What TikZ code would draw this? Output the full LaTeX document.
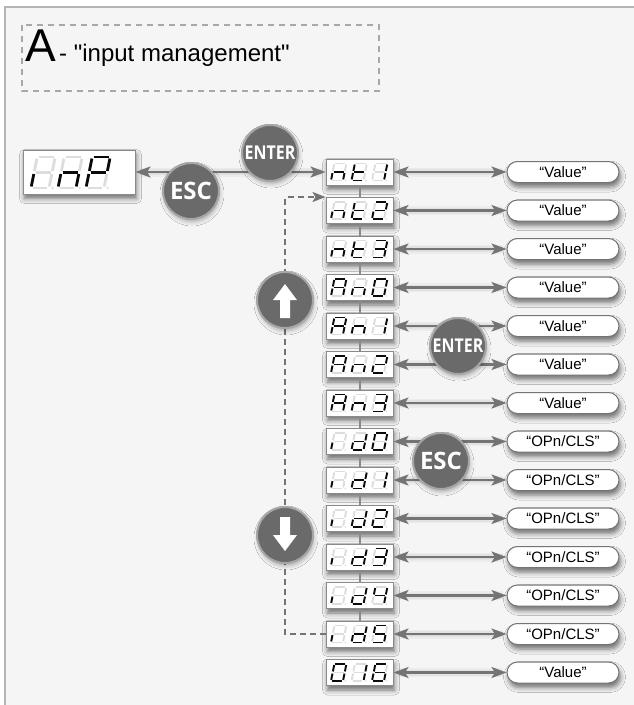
\documentclass[tikz,border=0pt]{standalone}
\usepackage{fontspec}
\usepackage{graphicx}
\setmainfont{Liberation Sans}[Ligatures=TeXOff]
\newfontfamily\btnfont{Open Sans}
\usetikzlibrary{arrows.meta,shadows.blur}
\definecolor{bgc}{HTML}{F5F5F5}
\definecolor{bordc}{HTML}{B5B5B5}
\definecolor{linec}{HTML}{747474}
\definecolor{boxc}{HTML}{8A8A8A}
\definecolor{btnc}{HTML}{6A6A6A}
\definecolor{btnring}{HTML}{A6A6A6}
\definecolor{segon}{HTML}{0A0A0A}
\definecolor{segoff}{HTML}{DDDDDD}
\definecolor{dashc}{HTML}{A8A8A8}
\makeatletter
\newcommand\segsel[2]{\edef\segtmp{\noexpand\in@{#1}{#2}}\segtmp\ifin@\def\segcol{segon}\else\def\segcol{segoff}\fi}
\makeatother
\newcommand\sdigit[6]{%
 \begin{scope}[shift={(#1,#2)},x=1pt,y=1pt,xslant=0.2,line width=#5]
  \pgfmathsetmacro\dW{#3}\pgfmathsetmacro\dH{#4}\pgfmathsetmacro\dM{#4/2}\pgfmathsetmacro\dg{#5*0.55}
  \segsel{a}{#6}\draw[color=\segcol] (\dg,\dH) -- (\dW-\dg,\dH);
  \segsel{b}{#6}\draw[color=\segcol] (\dW,\dH-\dg) -- (\dW,\dM+\dg);
  \segsel{c}{#6}\draw[color=\segcol] (\dW,\dM-\dg) -- (\dW,\dg);
  \segsel{d}{#6}\draw[color=\segcol] (\dg,0) -- (\dW-\dg,0);
  \segsel{e}{#6}\draw[color=\segcol] (0,\dg) -- (0,\dM-\dg);
  \segsel{f}{#6}\draw[color=\segcol] (0,\dM+\dg) -- (0,\dH-\dg);
  \segsel{g}{#6}\draw[color=\segcol] (\dg,\dM) -- (\dW-\dg,\dM);
  \fill[segoff] (\dW+#5*1.3,0) circle[radius=#5*0.45];
 \end{scope}}
\newcommand\val{“Value”}
\newcommand\ocl{“OPn/CLS”}
\newcommand\entertxt{\btnfont\bfseries\fontsize{19}{19}\selectfont\scalebox{0.84}[1]{ENTER}}
\newcommand\esctxt{\btnfont\bfseries\fontsize{24}{24}\selectfont ESC}
\tikzset{
  sh/.style={blur shadow={shadow xshift=1.5pt, shadow yshift=-4.5pt, shadow blur radius=5pt, shadow opacity=55}},
  dispbox/.style={draw=boxc, fill=white, line width=1pt, minimum width=67, minimum height=26, inner sep=0, sh},
  pill/.style={draw=linec, fill=white, line width=1pt, rounded corners=10.5pt, minimum width=112, minimum height=21, inner sep=0, font=\fontsize{15}{15}\selectfont, sh},
  btn/.style={circle, fill=btnc, draw=btnring, line width=2pt, minimum size=56, inner sep=0, text=white, blur shadow={shadow xshift=1pt, shadow yshift=-3pt, shadow blur radius=4pt, shadow opacity=30}},
  dbl/.style={linec, line width=2.4pt, {Stealth[length=15pt,width=11pt,inset=3.5pt]}-{Stealth[length=15pt,width=11pt,inset=3.5pt]}},
  lsh/.style={black, opacity=0.035, line width=#1, yshift=-5pt, shorten <=4pt, shorten >=4pt},
  dsh/.style={linec, line width=2.2pt, dash pattern=on 6pt off 4pt, -{Stealth[length=13pt,width=10pt,inset=3pt]}},
  vline/.style={boxc, line width=2pt},
}
\begin{document}
\begin{tikzpicture}[x=1pt,y=-1pt]
\useasboundingbox (0,0) rectangle (634,705);
\fill[white] (0,0) rectangle (634,705);
\fill[bgc] (5,7) rectangle (634,705);
\draw[bordc, line width=2pt] (5,705) -- (5,7) -- (634,7);
% header
\draw[dashc, line width=2pt, dash pattern=on 6pt off 5pt] (22,25) rectangle (379,91);
\node[anchor=base west, inner sep=0] (tA) at (25,61) {\fontsize{46}{46}\selectfont A};
\node[anchor=base west, inner sep=0] (tT) at (59,61) {\fontsize{24}{24}\selectfont - "input management"};
% main display
\node[dispbox, minimum width=112, minimum height=44] (inp) at (79,172) {};
\sdigit{31}{188}{18}{31}{2.8}{e}
\sdigit{58}{188}{18}{31}{2.8}{ceg}
\sdigit{86}{188}{18}{31}{2.8}{abefg}
% menu rows
\foreach \k/\sa/\sb/\sc/\lab in {0/ceg/defg/bc/\val, 1/ceg/defg/abdeg/\val, 2/ceg/defg/abcdg/\val,
  3/abcefg/ceg/abcdef/\val, 4/abcefg/ceg/bc/\val, 5/abcefg/ceg/abdeg/\val, 6/abcefg/ceg/abcdg/\val,
  7/e/bcdeg/abcdef/\ocl, 8/e/bcdeg/bc/\ocl, 9/e/bcdeg/abdeg/\ocl, 10/e/bcdeg/abcdg/\ocl,
  11/e/bcdeg/bcfg/\ocl, 12/e/bcdeg/acdfg/\ocl, 13/abcdef/bc/acdefg/\val}{
  \pgfmathsetmacro\yc{172+38.5*\k}
  \pgfmathsetmacro\yb{\yc+8.5}
  \node[dispbox] (r\k) at (359.5,\yc) {};
  \node[pill] (p\k) at (563,\yc) {\lab};
  \sdigit{331}{\yb}{12}{17}{1.9}{\sa}
  \sdigit{351.5}{\yb}{12}{17}{1.9}{\sb}
  \sdigit{372}{\yb}{12}{17}{1.9}{\sc}
}
% connectors
\foreach \k [evaluate=\k as \n using int(\k+1)] in {0,...,11}{
  \draw[vline] (r\k.south) -- (r\n.north);
}
\foreach \w in {9pt,6pt,3pt}{
  \draw[lsh=\w] (inp.east) -- (r0.west);
  \foreach \k in {0,...,13}{
    \draw[lsh=\w] (r\k.east) -- (p\k.west);
  }
}
\draw[dbl] (inp.east) -- (r0.west);
\foreach \k in {0,...,13}{
  \draw[dbl] (r\k.east) -- (p\k.west);
}
\coordinate (lc) at (285,197);
\draw[dsh] (r12.west) -| (lc) -- (r1.north west);
% buttons
\node[btn] (ent1) at (270,153) {\entertxt};
\node[btn] (esc1) at (191,191) {\esctxt};
\node[btn] (ent2) at (458,346) {\entertxt};
\node[btn] (esc2) at (441,461) {\esctxt};
\node[btn] (up) at (285,300) {};
\node[btn] (down) at (285,535) {};
\begin{scope}[shift={(up.center)}]
  \fill[white] (0,-16) -- (12,0) -- (5,0) -- (5,18) -- (-5,18) -- (-5,0) -- (-12,0) -- cycle;
\end{scope}
\begin{scope}[shift={(down.center)}]
  \fill[white] (0,16) -- (12,0) -- (5,0) -- (5,-18) -- (-5,-18) -- (-5,0) -- (-12,0) -- cycle;
\end{scope}
\end{tikzpicture}
\end{document}
